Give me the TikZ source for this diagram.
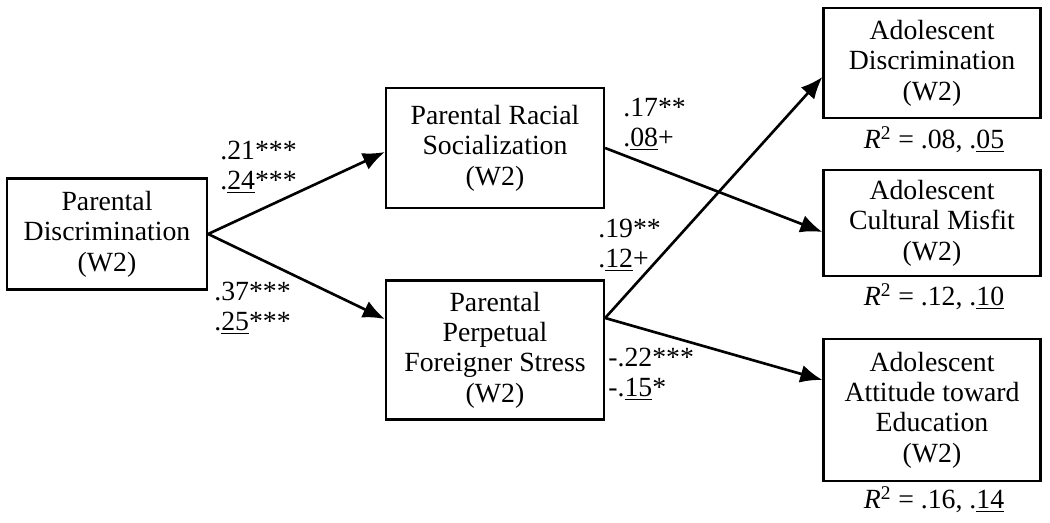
\documentclass[tikz,border=0pt]{standalone}
\usepackage{fontspec}
\setmainfont{Liberation Serif}
\usetikzlibrary{arrows.meta}
\tikzset{
    varbox/.style={draw, line width=1.3pt, align=center, inner sep=0pt,
        font=\fontsize{15.8}{17.3}\selectfont},
    coef/.style={anchor=west, align=left, inner sep=0pt,
        font=\fontsize{15.8}{17.3}\selectfont},
    rsq/.style={inner sep=0pt, font=\fontsize{15.8}{17.3}\selectfont},
    path/.style={line width=1.5pt, -{Latex[length=0.44cm,width=0.36cm]}}
}
\begin{document}
\begin{tikzpicture}[x=0.02cm, y=-0.02cm]
            \useasboundingbox (0,0) rectangle (1050,523);

            \node[varbox, minimum width=4cm, minimum height=2.22cm] (pdisc) at (107,234) {Parental\\Discrimination\\(W2)};
            \node[varbox, minimum width=4.36cm, minimum height=2.4cm] (prs) at (495,148) {Parental Racial\\Socialization\\(W2)};
            \node[varbox, minimum width=4.36cm, minimum height=2.78cm] (ppfs) at (495,350) {Parental\\Perpetual\\Foreigner Stress\\(W2)};
            \node[varbox, minimum width=4.34cm, minimum height=2.2cm] (adisc) at (932,63) {Adolescent\\Discrimination\\(W2)};
            \node[varbox, minimum width=4.34cm, minimum height=2.12cm] (amisfit) at (932,223) {Adolescent\\Cultural Misfit\\(W2)};
            \node[varbox, minimum width=4.34cm, minimum height=2.84cm] (aedu) at (932,410) {Adolescent\\Attitude toward\\Education\\(W2)};

            \node[rsq] (r1) at (934,140) {\textit{R}\textsuperscript{2} = .08, .\underline{05}};
            \node[rsq] (r2) at (934,297) {\textit{R}\textsuperscript{2} = .12, .\underline{10}};
            \node[rsq] (r3) at (934,500) {\textit{R}\textsuperscript{2} = .16, .\underline{14}};

            \draw[path] (pdisc.east) -- ([yshift=-0.08cm]prs.west);
            \draw[path] (pdisc.east) -- ([yshift=0.62cm]ppfs.west);
            \draw[path] (prs.east) -- ([yshift=-0.18cm]amisfit.west);
            \draw[path] ([yshift=0.64cm]ppfs.east) -- ([yshift=-0.28cm]adisc.west);
            \draw[path] ([yshift=0.64cm]ppfs.east) -- ([yshift=0.6cm]aedu.west);

            \node[coef] (c1) at (220,167) {.21***\\.\underline{24}***};
            \node[coef] (c2) at (214,308) {.37***\\.\underline{25}***};
            \node[coef] (c3) at (623,124) {.17**\\.\underline{08}+};
            \node[coef] (c4) at (598,245) {.19**\\.\underline{12}+};
            \node[coef] (c5) at (608,374) {-.22***\\-.\underline{15}*};
        \end{tikzpicture}
\end{document}
